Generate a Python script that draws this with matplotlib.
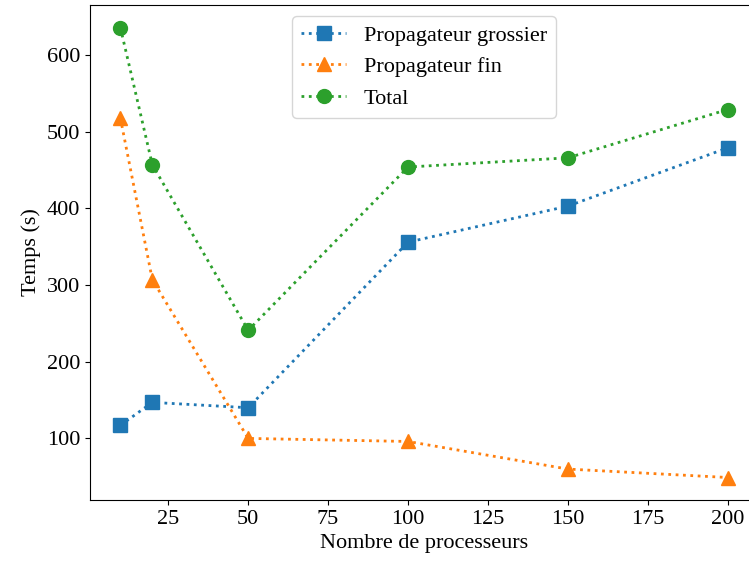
import matplotlib
matplotlib.use("Agg")
import matplotlib.pyplot as plt

plt.rcParams['font.family'] = ['Liberation Serif', 'DejaVu Serif']
plt.rcParams['font.size'] = 16

procs = [10, 20, 50, 100, 150, 200]
grossier = [117, 147, 140, 356, 403, 479]
fin = [518, 307, 100, 96, 60, 49]
total = [636, 457, 241, 454, 466, 529]

fig = plt.figure(figsize=(7.49, 5.65), dpi=100)
ax = fig.add_axes([90/749, 65/565, 668/749, 495/565])

ax.plot(procs, grossier, ':s', color='C0', lw=2, ms=10, label="Propagateur grossier")
ax.plot(procs, fin, ':^', color='C1', lw=2, ms=10, label="Propagateur fin")
ax.plot(procs, total, ':o', color='C2', lw=2, ms=10, label="Total")

ax.set_xlabel("Nombre de processeurs")
ax.set_ylabel("Temps (s)")
ax.legend(loc='upper center', bbox_to_anchor=(0.5, 1.0))

fig.savefig("out.png", dpi=100)
